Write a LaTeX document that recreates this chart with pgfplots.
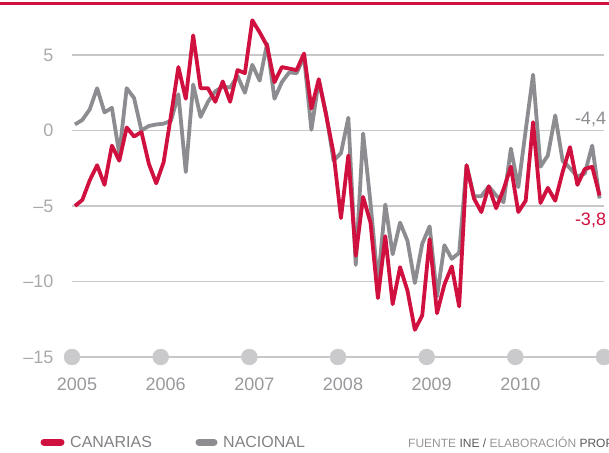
\documentclass[border=0pt]{standalone}
\usepackage{pgfplots}
\pgfplotsset{compat=1.18}
\usepackage{fontspec}
\setmainfont{Liberation Sans}
\definecolor{cred}{RGB}{208,16,62}
\definecolor{cgrey}{RGB}{140,140,145}
\definecolor{cgrid}{RGB}{200,200,202}
\definecolor{cdot}{RGB}{202,202,205}
\definecolor{ctick}{RGB}{170,170,174}
\definecolor{cleg}{RGB}{130,130,134}
\definecolor{csrcl}{RGB}{150,150,154}
\definecolor{csrcd}{RGB}{90,90,94}
\begin{document}
\begin{tikzpicture}
\begin{axis}[
  at={(72pt,95pt)}, anchor=south west,
  scale only axis, width=532pt, height=302pt,
  xmin=0, xmax=72, ymin=-15, ymax=5,
  clip=false,
  axis line style={draw=none},
  tick style={draw=none},
  ytick={-15,-10,-5,0,5},
  yticklabels={–15,–10,–5,0,5},
  ymajorgrids,
  grid style={cgrid, line width=1.4pt},
  xtick={0,12,24,36,48,60,72},
  xticklabels={2005,2006,2007,2008,2009,2010,{}},
  yticklabel style={font=\fontsize{18}{20}\selectfont, text=ctick, xshift=-15pt},
  xticklabel style={font=\fontsize{18}{20}\selectfont, text=ctick!90!black, yshift=-17pt, xshift=5pt},
  line join=round,
]
\addplot[only marks, mark=*, mark size=8pt, mark options={draw=cdot, fill=cdot}] coordinates {
(0,-15) (12,-15) (24,-15) (36,-15) (48,-15) (60,-15) (72,-15)};
\addplot[cgrey, line width=3.8pt, no marks] table[x expr=\thisrowno{0}+0.4, y index=1] {
0 0.4
1 0.7
2 1.4
3 2.8
4 1.2
5 1.5
6 -1.55
7 2.8
8 2.15
9 0.0
10 0.3
11 0.4
12 0.45
13 0.65
14 2.4
15 -2.75
16 3.05
17 0.9
18 1.9
19 2.6
20 2.9
21 2.85
22 3.6
23 2.5
24 4.35
25 3.3
26 5.75
27 2.1
28 3.2
29 3.85
30 3.8
31 4.9
32 0.05
33 3.3
34 1.1
35 -2.0
36 -1.5
37 0.85
38 -8.9
39 -0.2
40 -4.8
41 -10.1
42 -4.9
43 -8.2
44 -6.1
45 -7.3
46 -10.1
47 -7.5
48 -6.35
49 -11.0
50 -7.6
51 -8.5
52 -8.1
53 -2.3
54 -4.35
55 -4.35
56 -3.7
57 -4.3
58 -4.75
59 -1.2
60 -3.75
61 0.0
62 3.7
63 -2.4
64 -1.65
65 1.0
66 -2.0
67 -2.5
68 -3.05
69 -2.85
70 -1.0
71 -4.5
};
\addplot[cred, line width=3.8pt, no marks] table[x expr=\thisrowno{0}+0.4, y index=1] {
0 -5.0
1 -4.6
2 -3.3
3 -2.3
4 -3.6
5 -1.0
6 -2.0
7 0.2
8 -0.4
9 -0.1
10 -2.2
11 -3.5
12 -2.1
13 1.0
14 4.2
15 2.1
16 6.3
17 2.8
18 2.8
19 1.9
20 3.25
21 1.9
22 4.0
23 3.8
24 7.3
25 6.5
26 5.6
27 3.2
28 4.2
29 4.1
30 4.0
31 5.1
32 1.45
33 3.4
34 1.0
35 -1.5
36 -5.8
37 -1.65
38 -8.3
39 -4.4
40 -6.1
41 -11.1
42 -7.0
43 -11.5
44 -9.05
45 -10.6
46 -13.2
47 -12.25
48 -7.2
49 -12.1
50 -10.2
51 -9.0
52 -11.65
53 -2.3
54 -4.5
55 -5.4
56 -3.7
57 -5.15
58 -3.9
59 -2.4
60 -5.4
61 -4.65
62 0.55
63 -4.8
64 -3.8
65 -4.65
66 -2.75
67 -1.1
68 -3.6
69 -2.55
70 -2.4
71 -4.3
};
\node[anchor=east, inner sep=0pt, text=cgrey, font=\fontsize{18}{20}\selectfont] at (axis cs:72.3,0.75) {-4,4};
\node[anchor=east, inner sep=0pt, text=cred, font=\fontsize{18}{20}\selectfont] at (axis cs:72.3,-5.95) {-3,8};
\end{axis}
\draw[cred, line width=3pt] (0pt,448pt) -- (609pt,448pt);
\draw[cred, line width=7pt, line cap=round] (44pt,10pt) -- (61pt,10pt);
\node[anchor=west, inner sep=0pt, text=cleg, font=\fontsize{16}{18}\selectfont] at (70pt,10pt) {CANARIAS};
\draw[cgrey, line width=7pt, line cap=round] (199pt,10pt) -- (214pt,10pt);
\node[anchor=west, inner sep=0pt, text=cleg, font=\fontsize{16}{18}\selectfont] at (223pt,10pt) {NACIONAL};
\node[anchor=west, inner sep=0pt, font=\fontsize{12}{14}\selectfont] at (408pt,10pt) {\textcolor{csrcl}{FUENTE} \textcolor{csrcd}{INE /} \textcolor{csrcl}{ELABORACIÓN} \textcolor{csrcd}{PROPIA}};
\pgfresetboundingbox
\path[use as bounding box] (0pt,0pt) rectangle (609pt,452pt);
\end{tikzpicture}
\end{document}
